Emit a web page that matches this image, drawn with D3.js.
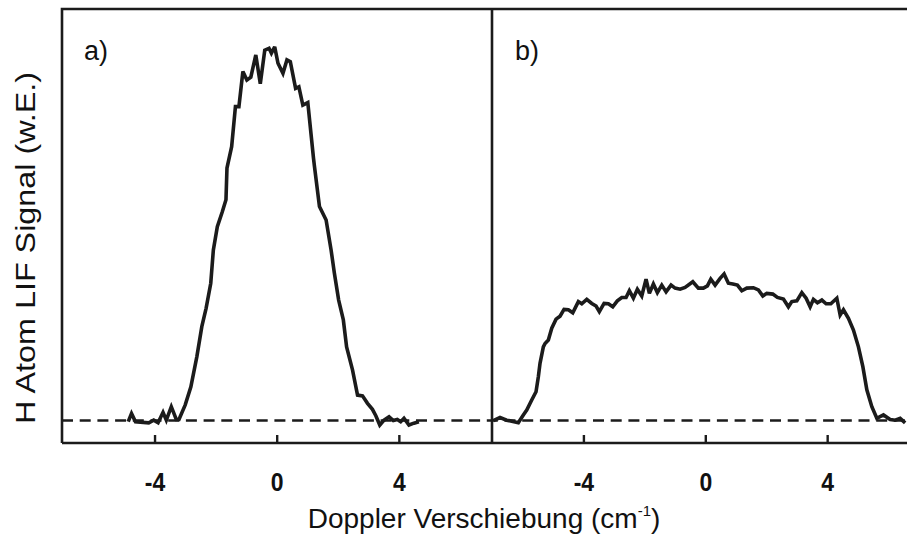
<!DOCTYPE html>
<html>
<head>
<meta charset="utf-8">
<script src="https://cdn.jsdelivr.net/npm/d3@7/dist/d3.min.js"></script>
<style>
  html, body { margin: 0; padding: 0; background: #fff; }
  svg { display: block; }
  text { font-family: "Liberation Sans", Arial, sans-serif; fill: #111; }
</style>
</head>
<body>
<svg id="chart" width="907" height="536"></svg>
<script>
// Panel a): H-atom Doppler profile, shift (cm^-1) and relative LIF signal
const shiftA = [-4.861, -4.753, -4.623, -4.190, -4.027, -3.884, -3.722, -3.614, -3.451, -3.288,
  -3.200, -2.995, -2.810, -2.614, -2.452, -2.312, -2.159, -2.074, -1.944, -1.781,
  -1.661, -1.628, -1.475, -1.351, -1.237, -1.107, -0.977, -0.847, -0.684, -0.537,
  -0.391, -0.251, -0.173, -0.065, 0.042, 0.205, 0.335, 0.446, 0.619, 0.726,
  0.856, 1.019, 1.205, 1.237, 1.400, 1.618, 1.781, 1.889, 2.029, 2.182,
  2.289, 2.484, 2.647, 2.810, 2.973, 3.135, 3.246, 3.376, 3.516, 3.679,
  3.819, 3.949, 4.060, 4.168, 4.330, 4.493, 4.656];
const signalA = [-0.003, 0.019, -0.003, -0.006, 0.001, -0.006, 0.022, 0.001, 0.037, 0.003,
  0.003, 0.042, 0.090, 0.171, 0.251, 0.300, 0.367, 0.456, 0.518, 0.558,
  0.590, 0.675, 0.732, 0.839, 0.839, 0.933, 0.910, 0.918, 0.977, 0.900,
  0.990, 0.995, 0.982, 0.999, 0.955, 0.928, 0.964, 0.959, 0.888, 0.892,
  0.843, 0.850, 0.701, 0.679, 0.572, 0.536, 0.456, 0.394, 0.322, 0.269,
  0.197, 0.135, 0.068, 0.066, 0.046, 0.030, 0.013, -0.012, 0.001, 0.010,
  0.000, 0.003, -0.003, 0.006, -0.012, -0.007, -0.003];

// Panel b): broad, flat-topped Doppler profile
const shiftB = [-6.957, -6.737, -6.517, -6.136, -5.972, -5.860, -5.696, -5.555, -5.479, -5.424,
  -5.315, -5.259, -5.151, -5.039, -4.898, -4.767, -4.636, -4.494, -4.350, -4.166,
  -4.054, -3.890, -3.726, -3.585, -3.477, -3.322, -3.181, -3.037, -2.886, -2.741,
  -2.600, -2.492, -2.360, -2.229, -2.085, -1.944, -1.835, -1.704, -1.573, -1.428,
  -1.287, -1.123, -0.991, -0.827, -0.663, -0.410, -0.227, -0.062, 0.069, 0.181,
  0.322, 0.486, 0.617, 0.758, 0.903, 1.054, 1.198, 1.362, 1.579, 1.743,
  1.888, 2.019, 2.216, 2.367, 2.564, 2.728, 2.840, 3.004, 3.168, 3.309,
  3.441, 3.549, 3.680, 3.825, 3.966, 4.120, 4.317, 4.426, 4.534, 4.698,
  4.862, 5.026, 5.171, 5.302, 5.466, 5.630, 5.847, 6.067, 6.231, 6.395, 6.559];
const signalB = [0.000, 0.008, 0.001, -0.006, 0.015, 0.028, 0.055, 0.077, 0.117, 0.153,
  0.197, 0.206, 0.215, 0.247, 0.271, 0.279, 0.297, 0.296, 0.288, 0.318,
  0.312, 0.324, 0.313, 0.306, 0.291, 0.313, 0.312, 0.304, 0.320, 0.329,
  0.329, 0.347, 0.327, 0.351, 0.333, 0.378, 0.340, 0.365, 0.342, 0.362,
  0.344, 0.362, 0.354, 0.351, 0.356, 0.371, 0.354, 0.354, 0.360, 0.378,
  0.362, 0.380, 0.392, 0.367, 0.365, 0.362, 0.347, 0.354, 0.355, 0.349,
  0.333, 0.340, 0.338, 0.329, 0.325, 0.304, 0.318, 0.320, 0.342, 0.327,
  0.304, 0.324, 0.315, 0.322, 0.312, 0.312, 0.327, 0.282, 0.296, 0.273,
  0.242, 0.197, 0.144, 0.082, 0.037, 0.006, 0.015, 0.003, 0.001, 0.006, -0.006];

const tickValues = [-4, 0, 4];
const panelLabels = ["a)", "b)"];
const yTitle = "H Atom LIF Signal (w.E.)";
const xTitleMain = "Doppler Verschiebung (cm";
const xTitleSup = "-1";

const svg = d3.select("#chart");
const W = 907;
const plotTop = 9, plotBottom = 443;

const y = d3.scaleLinear().domain([-0.06, 1.10]).range([plotBottom, plotTop]);
const xA = d3.scaleLinear().domain([-7.03, 7.05]).range([62, 492]);
const xB = d3.scaleLinear().domain([-7.0, 6.62]).range([492, W]);

const ink = "#1b1b1b";

// clip regions for both panels
const defs = svg.append("defs");
defs.append("clipPath").attr("id", "clipA").append("rect")
  .attr("x", 62).attr("y", plotTop).attr("width", 430).attr("height", plotBottom - plotTop);
defs.append("clipPath").attr("id", "clipB").append("rect")
  .attr("x", 492).attr("y", plotTop).attr("width", W - 492).attr("height", plotBottom - plotTop);

// zero-signal reference line across both panels
svg.append("line")
  .attr("x1", 62).attr("x2", W)
  .attr("y1", y(0)).attr("y2", y(0))
  .attr("stroke", ink).attr("stroke-width", 2.4)
  .attr("stroke-dasharray", "11,6.7");

function drawPanel(x, xs, ys, clipId) {
  const line = d3.line().x(d => x(d[0])).y(d => y(d[1]));
  svg.append("path")
    .datum(d3.zip(xs, ys))
    .attr("clip-path", `url(#${clipId})`)
    .attr("d", line)
    .attr("fill", "none")
    .attr("stroke", ink)
    .attr("stroke-width", 3.6)
    .attr("stroke-linejoin", "miter")
    .attr("stroke-miterlimit", 3);

  const axis = d3.axisBottom(x)
    .tickValues(tickValues)
    .tickFormat(d => String(d))
    .tickSizeInner(-8)
    .tickSizeOuter(0)
    .tickPadding(30);
  const g = svg.append("g").attr("transform", `translate(0,${plotBottom})`).call(axis);
  g.select(".domain").remove();
  g.selectAll(".tick line").attr("stroke", ink).attr("stroke-width", 2.4);
  g.selectAll(".tick text")
    .attr("fill", ink)
    .style("font-family", "'Liberation Sans', Arial, sans-serif")
    .style("font-size", "25px")
    .style("font-weight", "bold")
    .attr("transform", "scale(0.92,1)");
}

drawPanel(xA, shiftA, signalA, "clipA");
drawPanel(xB, shiftB, signalB, "clipB");

// frames
const frame = svg.append("g").attr("stroke", ink).attr("stroke-width", 2.6).attr("fill", "none");
frame.append("path").attr("d", `M${xA.range()[0]},${plotBottom}V${plotTop}H${W}`);
frame.append("path").attr("d", `M${xA.range()[0]},${plotBottom}H${W}`);
frame.append("path").attr("d", `M${xB.range()[0]},${plotTop}V${plotBottom}`);

// panel letters
svg.append("text").attr("x", 84).attr("y", 60).text(panelLabels[0])
  .style("font-size", "27px");
svg.append("text").attr("x", 515).attr("y", 60).text(panelLabels[1])
  .style("font-size", "27px");

// axis titles
svg.append("text")
  .attr("transform", "translate(35,248) rotate(-90)")
  .attr("text-anchor", "middle")
  .attr("textLength", 352)
  .attr("lengthAdjust", "spacingAndGlyphs")
  .style("font-size", "28px")
  .text(yTitle);

const xt = svg.append("text")
  .attr("x", 484).attr("y", 528)
  .attr("text-anchor", "middle")
  .style("font-size", "28px");
xt.append("tspan").text(xTitleMain);
xt.append("tspan").attr("dy", -12).style("font-size", "15px").text(xTitleSup);
xt.append("tspan").attr("dy", 12).text(")");
</script>
</body>
</html>
